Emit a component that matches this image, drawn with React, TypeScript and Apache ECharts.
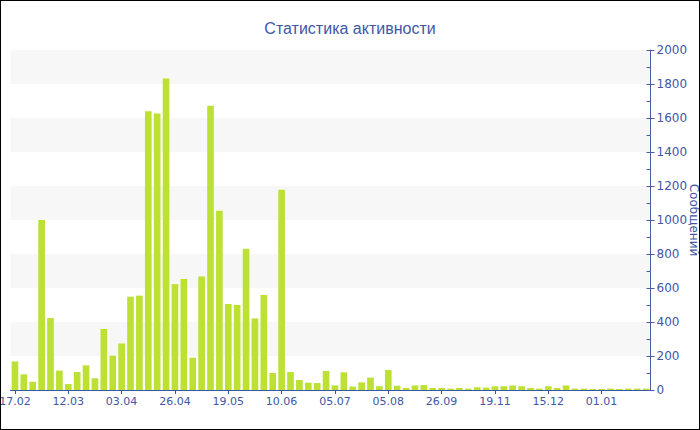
import React, { useEffect, useRef } from "react";
import * as echarts from "echarts";

const categories: string[] = [
  "17.02", "21.02", "25.02", "28.02", "03.03", "08.03",
  "12.03", "16.03", "19.03", "23.03", "26.03", "30.03",
  "03.04", "07.04", "11.04", "15.04", "19.04", "22.04",
  "26.04", "30.04", "04.05", "08.05", "11.05", "15.05",
  "19.05", "23.05", "26.05", "30.05", "02.06", "06.06",
  "10.06", "14.06", "18.06", "22.06", "26.06", "30.06",
  "05.07", "10.07", "15.07", "20.07", "25.07", "30.07",
  "05.08", "14.08", "22.08", "30.08", "08.09", "17.09",
  "26.09", "05.10", "14.10", "23.10", "01.11", "10.11",
  "19.11", "23.11", "27.11", "01.12", "05.12", "10.12",
  "15.12", "18.12", "20.12", "23.12", "25.12", "28.12",
  "01.01", "05.01", "09.01", "13.01", "17.01", "21.01",
];

const messages: number[] = [
  167, 92, 49, 1000, 423, 114, 35, 106, 145, 69,
  359, 202, 274, 549, 555, 1640, 1627, 1833, 623, 653,
  190, 668, 1672, 1054, 506, 500, 831, 421, 559, 100,
  1178, 106, 59, 43, 41, 112, 27, 104, 20, 45,
  73, 22, 118, 25, 12, 27, 29, 12, 12, 8,
  12, 8, 16, 14, 22, 22, 27, 22, 12, 8,
  22, 12, 27, 8, 8, 6, 6, 8, 6, 8, 8, 8,
];

const titleText = "Статистика активности";
const yAxisName = "Сообщений";

export default function App() {
  const ref = useRef<HTMLDivElement>(null);
  useEffect(() => {
    const chart = echarts.init(ref.current!, null, { renderer: "svg" });
    const blue = "#4256a6";
    chart.setOption({
      animation: false,
      backgroundColor: "#ffffff",
      title: {
        text: titleText,
        left: "center",
        top: 14,
        textStyle: {
          color: blue,
          fontSize: 16,
          fontWeight: "normal",
          fontFamily: "Liberation Sans",
        },
      },
      grid: {
        left: 9.5,
        right: 48.5,
        top: 49,
        bottom: 39,
        containLabel: false,
        outerBoundsMode: "none",
      },
      xAxis: {
        type: "category",
        data: categories,
        boundaryGap: true,
        axisLine: { show: true, lineStyle: { color: "#3a55a5", width: 1 } },
        axisTick: {
          show: true,
          alignWithLabel: true,
          interval: 5,
          length: 4,
          lineStyle: { color: "#3a55a5" },
        },
        axisLabel: {
          interval: 5,
          color: blue,
          fontSize: 11,
          fontFamily: "DejaVu Sans",
          margin: 6,
          hideOverlap: false,
        },
        splitLine: { show: false },
      },
      yAxis: [
        {
          type: "value",
          position: "right",
          min: 0,
          max: 2000,
          interval: 200,
          name: yAxisName,
          nameLocation: "middle",
          nameGap: 37,
          nameRotate: -90,
          nameMoveOverlap: false,
          nameTextStyle: { color: blue, fontSize: 12, fontFamily: "DejaVu Sans" },
          axisLine: { show: true, lineStyle: { color: "#4a5ca6", width: 1 } },
          axisTick: { show: true, length: 4, lineStyle: { color: "#4a5ca6" } },
          axisLabel: {
            color: blue,
            fontSize: 12,
            fontFamily: "DejaVu Sans",
            margin: 6,
            formatter: (v: number) => String(v),
          },
          splitLine: { show: false },
          splitArea: {
            show: true,
            areaStyle: { color: ["#ffffff", "#f7f7f7"] },
          },
        },
        {
          type: "value",
          position: "right",
          min: 0,
          max: 2000,
          interval: 100,
          axisLine: { show: false },
          axisTick: { show: true, inside: true, length: 4, lineStyle: { color: "#4a5ca6" } },
          axisLabel: { show: false },
          splitLine: { show: false },
        },
      ],
      series: [
        {
          type: "bar",
          data: messages,
          yAxisIndex: 0,
          barWidth: "75%",
          itemStyle: { color: "#bce133" },
        },
      ],
    });
    return () => chart.dispose();
  }, []);
  return (
    <div
      style={{
        position: "fixed",
        left: 0,
        top: 0,
        width: 700,
        height: 430,
        boxSizing: "border-box",
        border: "1px solid #000",
        background: "#fff",
        overflow: "hidden",
      }}
    >
      <div ref={ref} style={{ width: 698, height: 428 }} />
    </div>
  );
}
